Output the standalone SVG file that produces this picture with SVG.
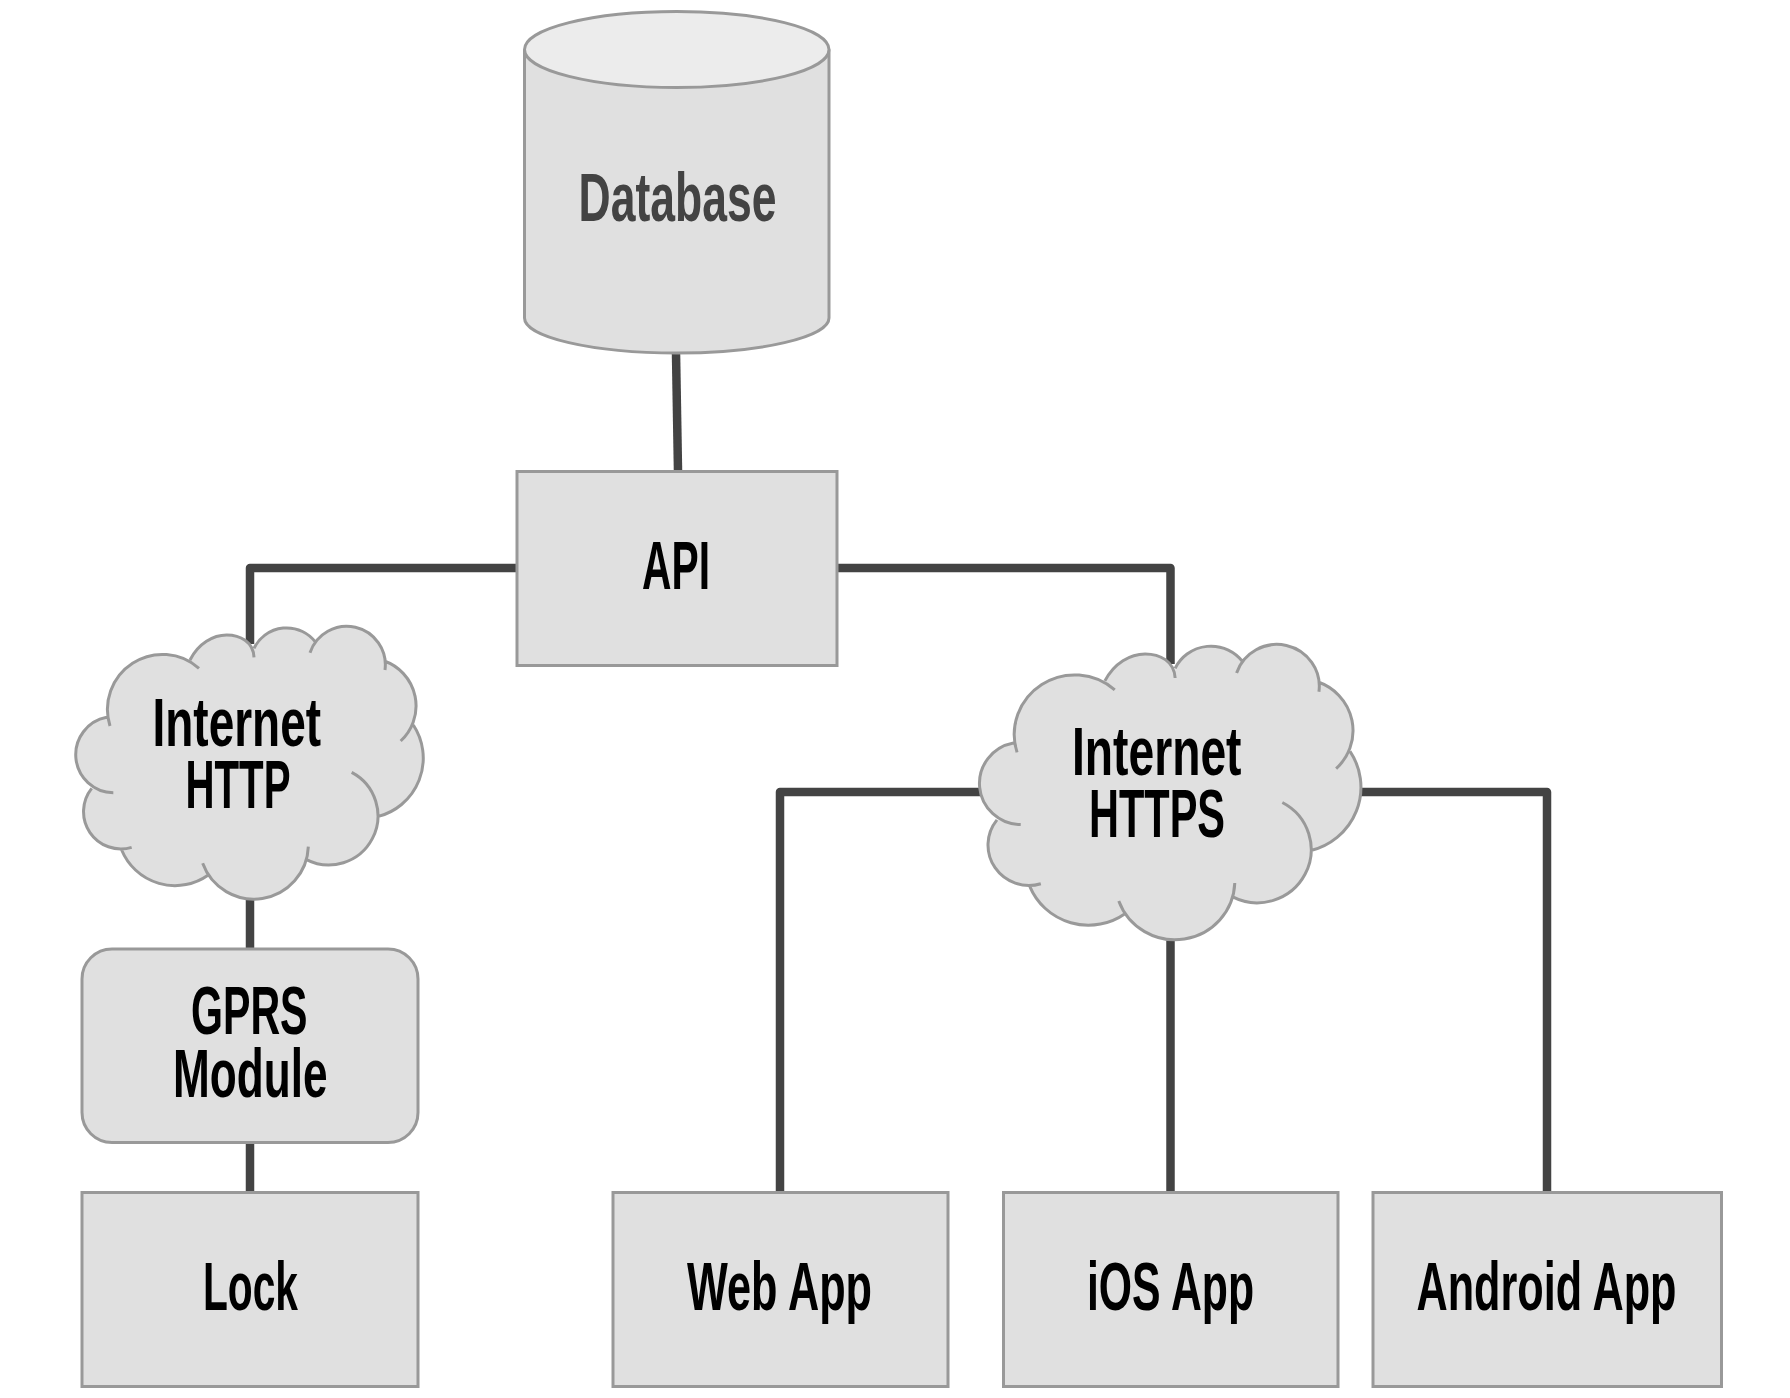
<svg xmlns="http://www.w3.org/2000/svg" xmlns:xlink="http://www.w3.org/1999/xlink" width="1790" height="1398" viewBox="0 0 1790 1398">
<style>
.shape{fill:#e0e0e0;stroke:#999999;stroke-width:3}
.cloud-fill{fill:#e0e0e0;stroke:none}
.cloud-line{fill:none;stroke:#999999;stroke-width:3;vector-effect:non-scaling-stroke;stroke-linecap:butt}
.conn{fill:none;stroke:#434343;stroke-width:8.500;stroke-linejoin:round;stroke-linecap:butt}
text{font-family:"Liberation Sans Narrow","Liberation Sans",sans-serif;font-weight:700;font-size:68px;fill:#000000}
.dark{fill:#434343}
</style>
<defs>
<path id="cloud-area" class="cloud-fill" d="M180,378 A165,165 0 0 1 447,205 L420,180 C445,130 490,105 530,105 C570,105 610,125 612,172 L612,145 A109,109 0 0 1 797,127 L780,158 A116,116 0 0 1 1005,210 L1003,183 A143,143 0 0 1 1052,423 L1090,375 A181,181 0 0 1 983,650 L905,517 A147,147 0 0 1 768,778 L775,740 A163.500,163.500 0 0 1 458,790 L475,825 A173,173 0 0 1 215,750 L245,742 A112,112 0 0 1 125,565 L190,578 A114,114 0 0 1 170,352 Z"/>
<path id="cloud-outline" class="cloud-line" d="M180,378 A165,165 0 0 1 447,205 M420,180 C445,130 490,105 530,105 C570,105 610,125 612,172 M612,145 A109,109 0 0 1 797,127 M780,158 A116,116 0 0 1 1005,210 M1003,183 A143,143 0 0 1 1052,423 M1090,375 A181,181 0 0 1 983,650 M905,517 A147,147 0 0 1 768,778 M775,740 A163.500,163.500 0 0 1 458,790 M475,825 A173,173 0 0 1 215,750 M245,742 A112,112 0 0 1 125,565 M190,578 A114,114 0 0 1 170,352"/>
</defs>
<g id="connectors">
<path class="conn" d="M676,353 L678,471"/>
<path class="conn" d="M517,568 H250 V644"/>
<path class="conn" d="M837,568 H1170.500 V664"/>
<path class="conn" d="M250,895 V949"/>
<path class="conn" d="M250,1142 V1192"/>
<path class="conn" d="M985,792 H780 V1193"/>
<path class="conn" d="M1360,792 H1547 V1193"/>
<path class="conn" d="M1170.500,930 V1193"/>
</g>
<g id="database">
<path class="shape" d="M524.500,49.500 V318 C524.500,337 592,353 676.750,353 C761,353 829,337 829,318 V49.500"/>
<ellipse cx="676.750" cy="49.500" rx="152.250" ry="38" fill="#ececec" stroke="#999999" stroke-width="3"/>
<text class="dark" x="578.500" y="221" textLength="198" lengthAdjust="spacingAndGlyphs">Database</text>
</g>
<g id="api">
<rect class="shape" x="517" y="471.500" width="320" height="194"/>
<text x="642" y="589" textLength="68" lengthAdjust="spacingAndGlyphs">API</text>
</g>
<g id="internet-http">
<g transform="translate(50,600) scale(0.33333)"><use href="#cloud-area"/><use href="#cloud-outline"/></g>
<text x="152.500" y="746" textLength="168.500" lengthAdjust="spacingAndGlyphs">Internet</text>
<text x="185.500" y="808" textLength="105" lengthAdjust="spacingAndGlyphs">HTTP</text>
</g>
<g id="internet-https">
<g transform="translate(951.200,616) scale(0.3659,0.3608)"><use href="#cloud-area"/><use href="#cloud-outline"/></g>
<text x="1072" y="775" textLength="169.500" lengthAdjust="spacingAndGlyphs">Internet</text>
<text x="1089" y="837" textLength="136" lengthAdjust="spacingAndGlyphs">HTTPS</text>
</g>
<g id="gprs-module">
<rect class="shape" x="82" y="949" width="336" height="193.500" rx="30" ry="30"/>
<text x="191" y="1034" textLength="116.500" lengthAdjust="spacingAndGlyphs">GPRS</text>
<text x="173" y="1097" textLength="154.500" lengthAdjust="spacingAndGlyphs">Module</text>
</g>
<g id="lock">
<rect class="shape" x="82" y="1192.500" width="336" height="194"/>
<text x="203" y="1310" textLength="95" lengthAdjust="spacingAndGlyphs">Lock</text>
</g>
<g id="web-app">
<rect class="shape" x="613" y="1192.500" width="335" height="194"/>
<text x="687" y="1310" textLength="185" lengthAdjust="spacingAndGlyphs">Web App</text>
</g>
<g id="ios-app">
<rect class="shape" x="1003.500" y="1192.500" width="334.500" height="194"/>
<text x="1087" y="1310" textLength="167" lengthAdjust="spacingAndGlyphs">iOS App</text>
</g>
<g id="android-app">
<rect class="shape" x="1373" y="1192.500" width="348.500" height="194"/>
<text x="1416.500" y="1310" textLength="260" lengthAdjust="spacingAndGlyphs">Android App</text>
</g>
</svg>
